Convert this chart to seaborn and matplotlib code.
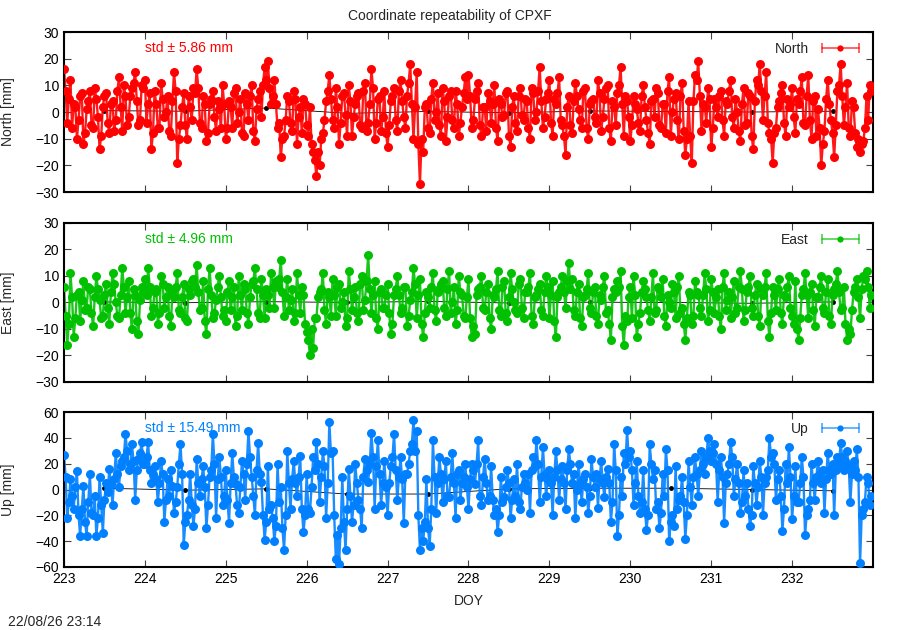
import numpy as np
import pandas as pd
import matplotlib
matplotlib.use('Agg')
import matplotlib.pyplot as plt
import seaborn as sns
from matplotlib.lines import Line2D
from matplotlib.legend_handler import HandlerLine2D, HandlerTuple

# Residuals per component [mm].
# "_a" epochs: every 0.04 day from DOY 223.00, "_b" epochs: every 0.04 day from DOY 223.02
north_a = [
    16, -4, 12, 3, -10, 6, -12, 1, 8, -6, 5, -14, 2, 7, -8, 4, -3, 13, -7, 6, -2, 9, 15, -5, 10,
    12, 3, -14, 8, -6, 11, -2, 6, -9, 15, -19, -5, 7, -10, 2, 9, 16, -4, 6, -11, 3, 8, -7, 1, 10,
    -10, 4, -6, 9, 0, -8, 7, -3, 10, -11, 5, -2, 17, 19, 3, 12, -6, -17, -9, 6, -4, 8, -12, 2, 5,
    -5, 2, -15, -24, -20, -8, 4, 14, -3, 9, -12, 6, -1, 10, -9, 3, 7, -6, 11, -4, 16, -10, 5, -7, 8,
    -13, 4, 9, -7, 12, -2, 6, 18, -10, 15, -27, -15, 3, -8, 11, 0, -5, 9, -11, 6, -3, 8, -9, 2, 13,
    14, -6, 5, 11, -9, 2, 7, -4, 10, -11, 3, -1, 8, -13, 6, -7, 9, -3, 4, -10, 7, 0, 17, -6, 5,
    12, -9, 3, 13, -5, -16, 6, -8, 11, 1, -6, 9, -10, 4, -2, 12, -7, 5, 10, -11, 2, 7, 17, -9, 4,
    -11, 6, 1, -7, 10, -3, -12, 5, 9, -5, 3, -8, 13, 0, 7, -10, 11, -16, 4, -19, 14, 19, -7, 2, 9,
    -13, 5, -2, 8, -9, 3, 12, -6, 0, -11, 9, -4, 6, -14, 12, 18, -3, 15, -8, -19, -6, 4, 10, -9, 2,
    9, -8, 3, 13, -5, 14, -10, 6, 1, -20, -7, 12, -3, -17, 8, 18, -5, 11, -9, 2, -13, -15, -11, 6, 10,
]
north_b = [
    8, 5, -6, 2, -3, 7, -8, 4, -5, 9, -2, -9, 6, -4, 3, -7, 8, 2, 10, -5, 6, 11, 4, -3, 9,
    -4, 7, -8, 3, -6, 5, 0, -7, 4, 8, -10, 2, -5, 6, -3, 7, 9, -6, 3, -8, 5, -2, 4, -6, 3,
    -6, 2, 7, -4, 5, -9, 3, 6, -7, 1, 8, 10, 12, 9, 6, 3, -4, -10, -3, 4, -7, 5, -2, -8, 3,
    -9, -12, -18, -15, -10, -3, 8, 5, -6, 2, -4, 7, -9, 4, -2, 6, -5, 8, -7, 3, 9, -4, 6, -2, -8,
    -5, 6, -3, 8, 4, -6, 11, 3, 2, -12, -10, 2, -6, 5, -3, 7, -9, 4, -2, 8, -6, 3, -4, 7, 5,
    6, -3, 8, -5, 2, -7, 4, 3, -6, 5, -2, 7, -9, 2, -4, 6, -1, 5, -6, 9, -3, 8, 4, -2, 7,
    -4, 5, 7, -3, -9, 2, -5, 4, 6, -3, 8, -6, 3, 5, -4, 7, -2, 9, -6, 4, -5, 10, 3, 6, -2,
    -5, 3, -4, 6, 2, -8, 4, -2, 7, -6, 3, 8, -9, 5, -3, 6, -7, -10, -9, 4, 12, 6, 3, -4, 5,
    -6, 2, 6, -3, 4, 8, -2, 5, -7, 3, -5, 7, -9, 4, 10, 8, 6, -4, -10, -8, 2, 7, -4, 5, 3,
    -2, 5, 8, -4, 6, -3, 4, -9, -6, -12, 5, 3, -8, -5, 10, 6, 2, -6, 4, -8, -10, -12, -6, -3, 8,
]
east_a = [
    6, -16, 11, -13, 3, -7, 8, -2, 5, -9, 10, 1, -5, 7, -8, 11, 0, -6, 13, -4, 8, -10, 3, -12, 6,
    9, 13, -5, 4, -8, 10, -2, 6, -9, 2, 11, -4, 7, -7, 3, 9, 14, -3, 8, -12, 13, -6, 1, 10, -5,
    -7, 8, 2, -9, 10, -3, 5, -8, 7, 13, -4, 9, -6, 3, 11, -2, 6, 16, -5, 9, 1, -7, 11, -4, 3,
    -11, -20, -17, -6, 4, 11, -8, 2, 9, -5, 7, 0, -9, 12, -3, 6, -7, 10, 1, 18, -4, 8, -10, 5, -2,
    7, -12, 3, 10, -4, 6, -9, 1, 13, -6, 9, -13, 4, -2, 11, -7, 5, 8, -5, 12, 0, -8, 10, 3, -6,
    9, -13, -12, 5, 10, -3, 7, -10, 2, 12, -5, 8, -7, 11, 0, -4, 9, -6, 4, 11, -8, 3, 7, -5, 10,
    -6, 8, -13, 4, 10, -2, 15, 9, -5, 7, -9, 3, 11, -4, 6, -8, 1, 10, -3, -14, 5, 8, 12, -16, -7,
    6, 10, -13, -4, 8, 2, -7, 11, -3, 5, 9, -9, 0, 7, -6, 10, -2, -14, 4, -8, 8, 3, -5, 11, -7,
    9, -4, 5, -10, 11, 1, -6, 8, -2, 12, -7, 4, 10, -5, 7, -9, 3, 11, -13, 6, -3, 9, -8, 2, 10,
    -5, 8, -14, 3, 11, -6, 7, -9, 2, 10, -4, 9, -8, 5, 12, -3, 6, -14, -12, 4, 9, -6, 10, 12, -2,
]
east_b = [
    -5, -8, 2, -6, 4, 1, -3, 6, -4, 2, 5, -6, 3, -2, 4, 7, -5, 3, 6, 2, -4, 5, -7, 1, 4,
    3, 6, -2, 5, -4, 7, 2, -5, 4, 6, -3, 2, -6, 5, 8, 6, 4, -2, -7, 5, 3, -4, 6, 2, -3,
    4, -3, 6, -5, 3, 7, -4, 2, 8, 5, -6, 3, 5, -2, 6, 8, 9, 4, 2, -3, 5, -4, 3, 6, -8,
    -14, -10, -6, 2, 5, -3, 4, -5, 3, 6, -2, 4, -6, 5, 2, -4, 7, -3, 8, 5, 3, -6, 4, -2, 3,
    -4, -8, 5, 3, -2, 6, -5, 4, 7, 3, -8, -4, 2, 6, -3, 4, 7, -2, 5, -4, 6, -3, 4, -5, 2,
    -6, -9, 3, 6, -2, 4, -6, 3, 5, -3, 6, -4, 2, 5, -3, 7, -2, 4, 6, -5, 2, 5, -3, 4, 6,
    3, -7, 2, 6, 4, 8, 5, -3, 4, -6, 2, 5, -2, 4, -5, 3, 6, -4, -8, 2, 4, 6, -9, -5, 2,
    -6, 3, -8, 4, 5, -3, 2, -4, 6, 2, -5, 3, -2, 4, 6, -4, -8, -6, 3, -5, 4, -2, 3, 5, -3,
    4, 2, -5, 6, -3, 4, 2, -4, 6, 5, -3, 6, -2, 3, -5, 5, 6, -7, -4, 3, 5, -4, 3, 6, -2,
    -8, -10, -6, 5, 3, 4, -3, 2, 6, -2, 4, -5, 3, 7, 4, -2, -8, -10, -3, 6, 2, 5, 9, 6, 3,
]
up_a = [
    27, -22, 8, -15, 14, -36, 3, -36, 12, -20, -36, 10, -34, 5, 16, -12, 28, 2, 22, 43, 15, 35, -8, 24, 37,
    20, 37, 5, 18, -10, 22, -25, 8, 15, -18, 2, 35, -43, -20, 12, -28, 24, -5, 18, -30, 10, 43, -22, 25, -12,
    15, -26, 28, 4, -18, 22, -8, 45, 10, -20, 36, 6, -39, 18, -12, -40, 20, 2, -47, 30, -15, 22, -5, 26, -33,
    12, -18, 25, 37, -10, 30, -22, 52, 30, -54, -58, 10, -47, 16, -25, 20, -8, -30, 24, 6, 44, -15, 38, -12, 22,
    -20, 18, 43, -8, 25, -26, 12, 30, 54, 45, -47, -40, 8, -44, 38, -18, 25, -10, 22, -6, 28, -22, 15, 5, 20,
    -15, 20, 4, 38, -12, 24, -8, 18, -20, -33, 10, -6, 15, -22, 8, 20, -15, 12, 0, -18, 25, 38, -10, 33, -5,
    15, -20, 30, -8, 18, -15, 31, 5, -22, 20, -10, 12, -18, 24, 2, -14, 22, -6, 16, -25, 35, -36, 10, 28, 46,
    30, -12, 22, -18, 15, -31, 35, 8, -15, -30, 12, 31, -40, -20, 18, -8, 10, -38, 22, -12, 25, -5, 30, 12, 40,
    22, 35, -10, 25, -26, 12, 37, -5, 20, -18, 15, 5, -28, 18, -12, 22, -20, 10, 40, 28, -8, 15, -32, 20, 33,
    -23, 18, -10, 25, -35, -15, 20, -8, 22, 5, -18, 28, 12, -20, 25, 36, 15, 30, -10, 22, 31, -57, -15, 10, -12,
]
up_b = [
    10, -10, -5, 2, -20, -15, -25, -10, -18, -5, -22, -12, -8, -2, 4, 8, 12, 18, 25, 30, 20, 22, 15, 28, 20,
    25, 15, 12, 8, 5, 12, -8, -5, 3, -10, 20, 12, -25, -8, -12, -15, 5, 8, 2, -12, 15, 20, 8, 10, -5,
    -8, 5, 10, -12, 2, 12, 20, 25, -5, 15, 12, -20, -25, -15, -22, -28, -10, -30, -20, 5, 8, 5, 10, -15, -20,
    -15, 2, 15, 20, 10, 18, 5, 28, -20, -35, -30, -25, -15, -5, -12, 5, -15, 10, 15, 20, 25, 18, 12, 5, 2,
    5, 25, 15, 10, 8, 12, 20, 35, 30, -20, -30, -25, -30, -15, 10, 5, 12, 8, -5, 10, 5, 12, -8, 10, 2,
    8, 15, 20, -5, 10, 5, -5, -8, -15, -20, -10, 2, 5, -8, -5, -10, 2, 5, 12, 15, 18, 20, 10, 12, 8,
    5, 10, 15, 8, 5, 15, 20, 12, 0, 5, 8, 2, -5, 10, 12, 8, 5, 10, 5, -10, 15, -20, -5, 20, 25,
    15, 5, -5, -10, -15, -20, 20, 15, -10, -18, -5, 15, -25, -28, -15, -5, -10, -20, 2, 10, 12, 15, 20, 25, 30,
    28, 20, 15, 10, 5, 20, 25, 8, 5, -10, -5, -15, -20, 5, 2, 10, 5, 15, 25, 20, 8, -5, -15, 5, 10,
    -5, -10, 5, 10, -20, -8, 5, 10, 12, 15, 8, 15, 20, 15, 20, 25, 22, 18, 12, 15, 10, -20, -10, 5, -5,
]

# daily solutions (black), at noon of each day
daily_doy = [223.5, 224.5, 225.5, 226.5, 227.5, 228.5, 229.5, 230.5, 231.5, 232.5]
daily_north = [0.5, 0.3, 1.5, -0.5, 0.2, -0.3, 0.4, 0.2, 0.0, 0.3]
daily_east = [0.2, -0.1, 0.3, 0.0, 0.4, -0.2, 0.1, 0.0, -0.3, 0.2]
daily_up = [1.0, -0.5, 0.5, -3.5, -3.5, 0.5, 1.0, 1.0, 0.0, -1.0]

components = ['North', 'East', 'Up']
colors = ['#ff0000', '#00c000', '#0080ff']
stds = ['5.86', '4.96', '15.49']
ylims = [(-30, 30), (-30, 30), (-60, 60)]
yticks = [range(-30, 31, 10), range(-30, 31, 10), range(-60, 61, 20)]

for arr in (north_a, north_b, east_a, east_b, up_a, up_b):
    assert len(arr) == 250

doy_a = 223.00 + 0.04 * np.arange(250)
doy_b = 223.02 + 0.04 * np.arange(250)
df = pd.concat([
    pd.DataFrame({'DOY': doy_a, 'North': north_a, 'East': east_a, 'Up': up_a}),
    pd.DataFrame({'DOY': doy_b, 'North': north_b, 'East': east_b, 'Up': up_b}),
]).sort_values('DOY').reset_index(drop=True)
daily = pd.DataFrame({'DOY': daily_doy, 'North': daily_north,
                      'East': daily_east, 'Up': daily_up})

sns.set_theme(style='ticks')
plt.rcParams['font.family'] = ['Liberation Sans', 'DejaVu Sans']
plt.rcParams['font.size'] = 10

fig = plt.figure(figsize=(9, 6.3), dpi=100)
boxes = [[0.0711, 0.6952, 0.8989, 0.2540],
         [0.0711, 0.3937, 0.8989, 0.2524],
         [0.0711, 0.1000, 0.8989, 0.2460]]

for i, name in enumerate(components):
    ax = fig.add_axes(boxes[i])
    c = colors[i]
    sns.lineplot(data=daily, x='DOY', y=name, ax=ax, color='black', lw=0.6,
                 marker='o', markersize=3.5, markeredgewidth=0, zorder=1)
    sns.lineplot(data=df, x='DOY', y=name, ax=ax, color=c, lw=1.7, alpha=0.9, zorder=2)
    sns.scatterplot(data=df, x='DOY', y=name, ax=ax, color=c, s=42, linewidth=0, zorder=3)

    ax.set_xlim(223, 233)
    ax.set_ylim(*ylims[i])
    ax.set_yticks(list(yticks[i]))
    ax.set_xticks(range(223, 233))
    ax.tick_params(direction='in', top=True, right=True, length=5, width=0.8,
                   labelsize=10, color='#444444', labelcolor='black')
    for sp in ax.spines.values():
        sp.set_linewidth(1.5)
        sp.set_color('black')
    ax.set_ylabel(name + ' [mm]', fontsize=10)
    ax.yaxis.set_label_coords(-0.06, 0.5)
    if i < 2:
        ax.set_xlabel('')
        ax.tick_params(labelbottom=False)
    else:
        ax.set_xlabel('DOY', fontsize=10, labelpad=6)

    ax.text(0.1, 0.9, 'std \u00b1 ' + stds[i] + ' mm', color=c, fontsize=10,
            transform=ax.transAxes, va='center', ha='left')

    bar = Line2D([], [], color=c, lw=1.2, alpha=0.7, marker='|', markersize=7, markeredgewidth=1.2)
    dot = Line2D([], [], color=c, ls='', marker='o', markersize=4.5, markeredgewidth=0)
    ax.legend([(bar, dot)], [name], loc='upper right', frameon=False, markerfirst=False,
              handlelength=3.3, handletextpad=0.6, borderaxespad=0.3, fontsize=10,
              handler_map={bar: HandlerLine2D(numpoints=2), dot: HandlerLine2D(numpoints=1),
                           tuple: HandlerTuple(ndivide=1)})

fig.suptitle('Coordinate repeatability of CPXF', y=0.985, fontsize=10)
fig.text(8 / 900, 1 - 622 / 630, '22/08/26 23:14', fontsize=10, va='center', ha='left')

fig.savefig('out.png', dpi=100)
